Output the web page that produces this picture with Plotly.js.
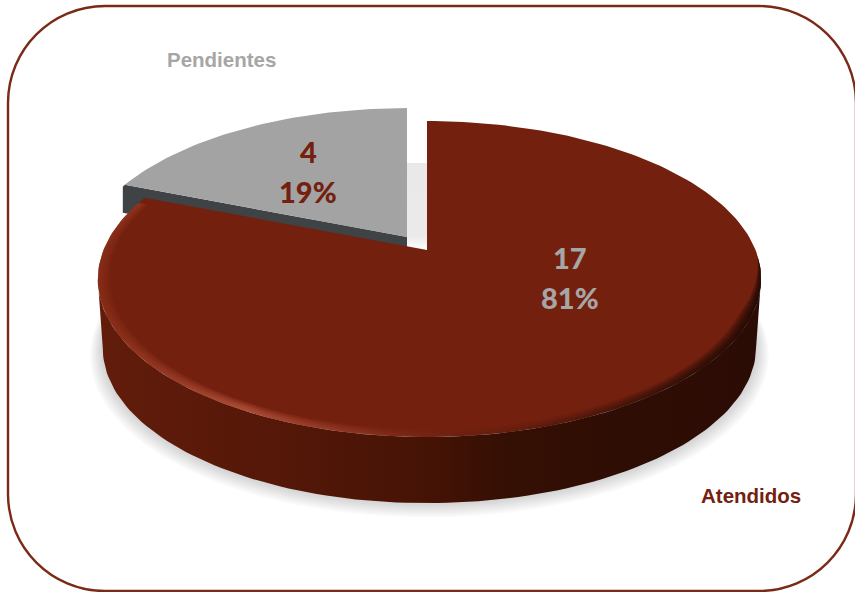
<!DOCTYPE html>
<html><head><meta charset="utf-8">
<script src="https://cdn.plot.ly/plotly-3.0.1.min.js"></script>
<style>html,body{margin:0;padding:0;background:#fff}#c{width:855px;height:592px}</style>
</head><body><div id="c"></div>
<script>
const categories = ['Atendidos', 'Pendientes'];
const values = [17, 4];
const percents = ['81%', '19%'];

const total = values[0] + values[1];
const split = 360 * values[0] / total;
const disc = {cx: 427, cy: 250, A: 326, B: 152.6, k: 0.1837, skew: 2.5};

function pt(theta, r, o) {
  o = o || {};
  const t = theta * Math.PI / 180;
  const u = r * Math.sin(t), v = -r * Math.cos(t);
  const w = 1 / (1 - disc.k * v);
  const s = o.s || 1;
  return [disc.cx + (o.dx || 0) + disc.A * s * u * w + disc.skew * u * u,
          disc.cy + (o.dy || 0) + disc.B * s * v * w];
}
function arc(a, b, r, o) {
  const out = [], n = Math.max(2, Math.ceil(Math.abs(b - a) / 1.5));
  for (let i = 0; i <= n; i++) {
    const th = a + (b - a) * i / n;
    out.push(pt(th, typeof r === 'function' ? r(th) : r, o));
  }
  return out;
}
function poly(points, extra) {
  return Object.assign({
    type: 'scatter', mode: 'lines', x: points.map(p => p[0]), y: points.map(p => p[1]),
    fill: 'toself', line: {width: 0, color: 'rgba(0,0,0,0)'}, hoverinfo: 'skip', showlegend: false
  }, extra);
}
const base = {dy: 69, s: 0.985};
const grayOff = {dx: -20, dy: -13};
const traces = [];

// soft shadow below the disc
for (let i = 0; i < 7; i++) {
  const grow = 1 + 0.0055 * (i + 1);
  traces.push(poly(arc(40, 320, 1, {dy: base.dy + 1 + i * 1.0, s: base.s * grow}),
    {fillcolor: 'rgba(60,60,60,0.03)'}));
}
// light shadow in the gap between the slices
traces.push(poly([[407,163],[427,163],[427,252],[407,252]], {
  fillgradient: {type: 'vertical', colorscale: [[0,'#ffffff'],[0.18,'#eaeaea'],[1,'#e9e9e9']]}
}));

// grey slice: cut wall then top
const gc = pt(split, 1, grayOff), ga = [disc.cx + grayOff.dx, disc.cy + grayOff.dy];
traces.push(poly([gc, ga, [ga[0], ga[1] + 28], [gc[0] - 2, gc[1] + 28], [gc[0] - 2, gc[1] + 2]], {fillcolor: '#404345'}));
traces.push(poly([ga].concat(arc(split, 360, 1, grayOff)), {fillcolor: '#a3a3a3'}));

// red slice: wall, then top, then rim shading
const tangentR = 180 - Math.asin(Math.sqrt(1 - disc.k * disc.k)) * 180 / Math.PI;
const tangentL = 360 - tangentR;
const wallTop = arc(tangentL, tangentR, 1), wallBase = arc(tangentR, tangentL, 1, base);
traces.push(poly(wallTop.concat(wallBase), {
  fillgradient: {type: 'horizontal', colorscale: [
    [0,'#621c0b'],[0.12,'#5c1a0a'],[0.3,'#531708'],[0.5,'#451305'],[0.62,'#340f04'],[0.8,'#2e0d04'],[1,'#2b0c04']]}
}));
traces.push(poly([[disc.cx, disc.cy]].concat(arc(0, split, 1)), {fillcolor: '#74200e'}));

const rimScale = [
  [0,'rgba(150,55,32,0.10)'],[0.22,'rgba(185,85,62,0.24)'],[0.42,'rgba(150,60,40,0.10)'],
  [0.62,'rgba(60,20,10,0.05)'],[0.85,'rgba(35,10,4,0.18)'],[1,'rgba(30,8,3,0.30)']];
const rimFrom = 92, rimTo = 289;
[0.034, 0.028, 0.022, 0.017, 0.012, 0.007, 0.003].forEach(d => {
  const inner = th => 1 - d * Math.min(1, (th - rimFrom) / 22);
  traces.push(poly(arc(rimFrom, rimTo, 1).concat(arc(rimTo, rimFrom, inner)), {
    fillgradient: {type: 'horizontal', colorscale: rimScale}
  }));
});

const labelFont = c => ({family: 'Lato, sans-serif', size: 29, color: c, weight: 900});
const catFont = c => ({family: 'Liberation Sans, Arial, sans-serif', size: 20.5, color: c, weight: 700});
const ann = (x, y, text, font) => ({xref:'x', yref:'y', x, y, text, font, showarrow:false, xanchor:'center', yanchor:'middle'});
const red = '#74200e', grey = '#a6a6a6';

const layout = {
  width: 855, height: 592, margin: {l:0, r:0, t:0, b:0},
  paper_bgcolor: '#fff', plot_bgcolor: '#fff', showlegend: false,
  xaxis: {range: [0, 855], visible: false, fixedrange: true},
  yaxis: {range: [592, 0], visible: false, fixedrange: true},
  shapes: [{type:'path', xref:'x', yref:'y', layer:'below',
    path:'M 105 6 L 759 6 C 812.6 6 856 49.4 856 103 L 856 494 C 856 547.6 812.6 591 759 591 L 105 591 C 51.4 591 8 547.6 8 494 L 8 103 C 8 49.4 51.4 6 105 6 Z',
    line:{color:'#7a2a17', width:2.4}, fillcolor:'rgba(0,0,0,0)'}],
  annotations: [
    ann(570, 257, String(values[0]), labelFont(grey)),
    ann(570, 297, percents[0], labelFont(grey)),
    ann(308, 151, String(values[1]), labelFont(red)),
    ann(308, 191, percents[1], labelFont(red)),
    ann(751, 495, categories[0], catFont(red)),
    ann(221, 59, categories[1], catFont(grey))
  ]
};
Plotly.newPlot('c', traces, layout, {displayModeBar:false, staticPlot:true});
</script></body></html>
